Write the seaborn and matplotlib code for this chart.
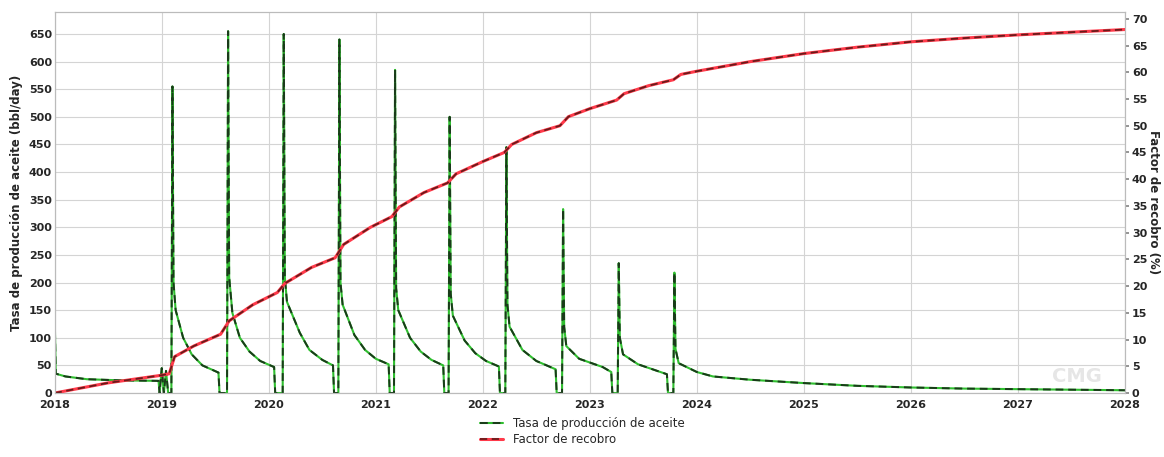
import numpy as np
import pandas as pd
import seaborn as sns
import matplotlib.pyplot as plt

# oil rate (bbl/day), time in decimal years
rate_t = [2018.0, 2018.01, 2018.1, 2018.3, 2018.6, 2018.97, 2018.98, 2019.0, 2019.02, 2019.04, 2019.06, 2019.09,
          2019.10, 2019.11, 2019.13, 2019.2, 2019.28, 2019.38, 2019.53, 2019.54, 2019.61,
          2019.62, 2019.63, 2019.66, 2019.73, 2019.82, 2019.92, 2020.05, 2020.06, 2020.13,
          2020.14, 2020.15, 2020.17, 2020.29, 2020.38, 2020.5, 2020.6, 2020.61, 2020.65,
          2020.66, 2020.67, 2020.69, 2020.8, 2020.9, 2021.0, 2021.12, 2021.13, 2021.17,
          2021.18, 2021.19, 2021.21, 2021.32, 2021.42, 2021.52, 2021.63, 2021.64, 2021.68,
          2021.69, 2021.70, 2021.72, 2021.83, 2021.93, 2022.03, 2022.15, 2022.16, 2022.21,
          2022.22, 2022.23, 2022.25, 2022.37, 2022.5, 2022.68, 2022.69, 2022.74,
          2022.75, 2022.76, 2022.78, 2022.9, 2023.12, 2023.2, 2023.21, 2023.26,
          2023.27, 2023.28, 2023.31, 2023.45, 2023.6, 2023.72, 2023.73, 2023.78,
          2023.79, 2023.80, 2023.83, 2024.0, 2024.15, 2024.5, 2025.0, 2025.5, 2026.0,
          2026.5, 2027.0, 2027.5, 2028.0]
rate_v = [135, 35, 30, 25, 23, 22, 0, 45, 0, 40, 0, 0,
          555, 200, 150, 100, 70, 50, 37, 0, 0,
          655, 210, 145, 100, 75, 58, 47, 0, 0,
          650, 210, 165, 109, 78, 60, 50, 0, 0,
          640, 200, 160, 105, 78, 62, 52, 0, 0,
          585, 190, 150, 100, 75, 60, 50, 0, 0,
          500, 180, 140, 95, 72, 58, 48, 0, 0,
          445, 160, 120, 78, 58, 43, 0, 0,
          333, 120, 85, 62, 47, 38, 0, 0,
          235, 100, 70, 52, 42, 34, 0, 0,
          218, 80, 54, 38, 30, 24, 18, 13, 10,
          8, 7, 6, 5]

# recovery factor (%)
rf_t = [2018.0, 2018.5, 2018.99, 2019.07, 2019.12, 2019.3, 2019.55, 2019.63, 2019.85, 2020.08,
        2020.15, 2020.4, 2020.62, 2020.7, 2020.95, 2021.15, 2021.22, 2021.45, 2021.67, 2021.75,
        2022.0, 2022.2, 2022.27, 2022.5, 2022.72, 2022.8, 2023.0, 2023.25, 2023.32, 2023.55,
        2023.78, 2023.85, 2024.0, 2024.5, 2025.0, 2025.5, 2026.0, 2026.5, 2027.0, 2027.5, 2028.0]
rf_v = [0, 1.9, 3.3, 3.6, 6.8, 8.8, 11.0, 13.5, 16.5, 18.8,
        20.5, 23.5, 25.3, 27.8, 31.0, 33.0, 34.8, 37.5, 39.3, 41.0,
        43.3, 45.0, 46.5, 48.7, 50.0, 51.7, 53.2, 54.8, 56.0, 57.5,
        58.6, 59.6, 60.2, 62.0, 63.5, 64.7, 65.7, 66.4, 67.0, 67.5, 68.0]

years = list(range(2018, 2029))

df_rate = pd.DataFrame({'t': rate_t, 'rate': rate_v})
df_rf = pd.DataFrame({'t': rf_t, 'rf': rf_v})

sns.set_theme(style='whitegrid')
plt.rcParams['font.family'] = ['DejaVu Sans']

fig, ax = plt.subplots(figsize=(11.64, 4.57), dpi=100)
fig.subplots_adjust(left=0.047, right=0.9665, top=0.974, bottom=0.14)
ax2 = ax.twinx()

# colored base line + dark dashes on top
l1 = sns.lineplot(data=df_rate, x='t', y='rate', ax=ax, color='#2fbf2f', lw=1.5).lines[-1]
l1d = sns.lineplot(data=df_rate, x='t', y='rate', ax=ax, color='#1a3a1a', lw=1.4).lines[-1]
l1d.set_dashes((4, 2.5))
l2 = sns.lineplot(data=df_rf, x='t', y='rf', ax=ax2, color='#ff3a4a', lw=2.2).lines[-1]
l2d = sns.lineplot(data=df_rf, x='t', y='rf', ax=ax2, color='#6a1a1a', lw=1.3).lines[-1]
l2d.set_dashes((4, 2.5))

ax.set_xlim(2018, 2028)
ax.set_ylim(0, 690)
ax2.set_ylim(0, 71.3)
ax.set_xticks(years)
ax.set_xticklabels([str(y) for y in years], fontsize=8, fontweight='bold')
ax.set_yticks(np.arange(0, 651, 50))
ax.set_yticklabels([str(v) for v in range(0, 651, 50)], fontsize=8, fontweight='bold')
ax2.set_yticks(np.arange(0, 71, 5))
ax2.set_yticklabels([str(v) for v in range(0, 71, 5)], fontsize=8, fontweight='bold')
ax2.grid(False)
ax.grid(True, color='#d4d4d4', lw=0.8)
ax.set_xlabel('')
ax.set_ylabel('Tasa de producción de aceite (bbl/day)', fontsize=8.5, fontweight='bold', labelpad=4)
ax2.set_ylabel('Factor de recobro (%)', fontsize=8.5, fontweight='bold', rotation=270, labelpad=9)
ax.tick_params(axis='y', pad=2, length=0)
ax.tick_params(axis='x', pad=5, length=0)
ax2.tick_params(axis='y', pad=2, length=3, color='#888888')

for a in (ax, ax2):
    for s in a.spines.values():
        s.set_color('#bbbbbb')
        s.set_linewidth(0.8)

ax.text(2027.55, 12, 'CMG', fontsize=14, color='#e6e6e6', fontweight='bold', ha='center', va='bottom')

fig.legend([(l1, l1d), (l2, l2d)], ['Tasa de producción de aceite', 'Factor de recobro'],
           loc='lower center', bbox_to_anchor=(0.5, 0.0), frameon=False, fontsize=8.5,
           handlelength=2.0, labelspacing=0.3)

fig.savefig('out.png', dpi=100)
